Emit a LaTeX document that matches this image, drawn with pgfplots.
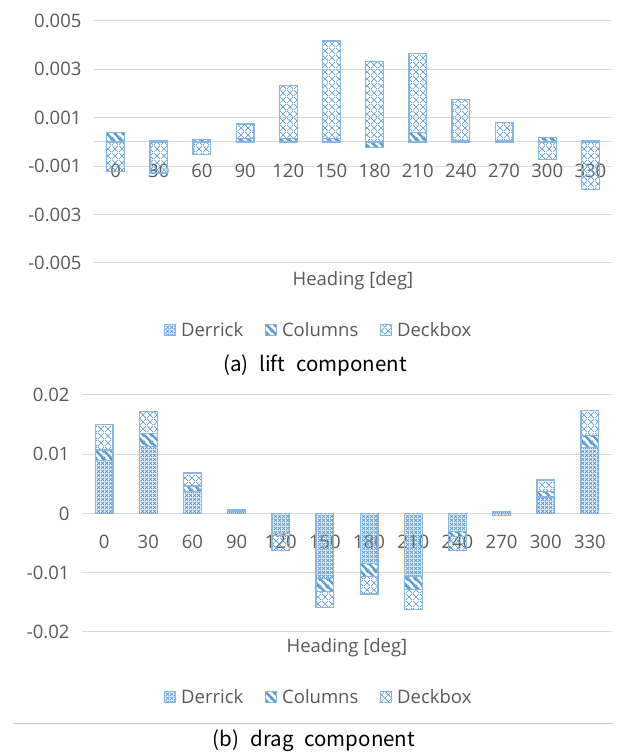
\documentclass[border=0pt]{standalone}
\usepackage{pgfplots}
\pgfplotsset{compat=1.18}
\usepackage{pgfplotstable}
\usepackage{fontspec}
\setmainfont{Open Sans}
\newfontfamily\capfam{Noto Sans CJK KR}
\usetikzlibrary{patterns}
\definecolor{xblue}{HTML}{5B9BD5}
\definecolor{xborder}{HTML}{86B6E4}
\definecolor{xgray}{HTML}{595959}
\definecolor{xgrid}{HTML}{D9D9D9}
\newcommand\tickfont{\fontsize{18.5}{22}\selectfont}
\newcommand\capfont{\capfam\fontsize{20.5}{24}\selectfont}

\pgfdeclarepatternformonly{derrickpat}{\pgfpointorigin}{\pgfpoint{3.6pt}{3.6pt}}{\pgfpoint{3.6pt}{3.6pt}}{
 \pgfsetlinewidth{0.9pt}
 \pgfpathmoveto{\pgfpointorigin}\pgfpathlineto{\pgfpoint{3.6pt}{3.6pt}}
 \pgfpathmoveto{\pgfpoint{0pt}{3.6pt}}\pgfpathlineto{\pgfpoint{3.6pt}{0pt}}
 \pgfusepath{stroke}}
\pgfdeclarepatternformonly{columnspat}{\pgfpointorigin}{\pgfpoint{8pt}{8pt}}{\pgfpoint{8pt}{8pt}}{
 \pgfsetlinewidth{2.6pt}
 \pgfpathmoveto{\pgfpoint{0pt}{8pt}}\pgfpathlineto{\pgfpoint{8pt}{0pt}}
 \pgfpathmoveto{\pgfpoint{-2pt}{2pt}}\pgfpathlineto{\pgfpoint{2pt}{-2pt}}
 \pgfpathmoveto{\pgfpoint{6pt}{10pt}}\pgfpathlineto{\pgfpoint{10pt}{6pt}}
 \pgfusepath{stroke}}
\pgfdeclarepatternformonly{deckpat}{\pgfpointorigin}{\pgfpoint{7pt}{7pt}}{\pgfpoint{7pt}{7pt}}{
 \pgfsetlinewidth{0.75pt}
 \pgfpathmoveto{\pgfpointorigin}\pgfpathlineto{\pgfpoint{7pt}{7pt}}
 \pgfpathmoveto{\pgfpoint{0pt}{7pt}}\pgfpathlineto{\pgfpoint{7pt}{0pt}}
 \pgfusepath{stroke}}

\pgfplotsset{
 sqlegend/.style={legend image code/.code={\draw[##1,line width=0.8pt] (0pt,-5.5pt) rectangle (11pt,5.5pt);}},
 derS/.style={draw=xborder, line width=1.2pt, pattern=derrickpat, pattern color=xblue, sqlegend},
 colS/.style={draw=xborder, line width=1.2pt, pattern=columnspat, pattern color=xblue, sqlegend},
 deckS/.style={draw=xborder, line width=1.2pt, pattern=deckpat, pattern color=xblue, sqlegend},
 baseax/.style={scale only axis, ybar stacked, xmin=-0.5, xmax=11.5,
   scaled y ticks=false, major tick length=0pt},
 mainax/.style={baseax, axis x line*=middle, axis y line*=left,
   x axis line style={draw=xgrid, line width=1pt}, y axis line style={draw=none},
   xtick=\empty, ymajorgrids, grid style={xgrid, line width=1pt},
   tick label style={font=\tickfont, text=xgray},
   yticklabel style={xshift=-9pt},
   xlabel={Heading [deg]},
   label style={font=\tickfont, text=xgray},
   legend columns=3,
   legend cell align=left,
   legend style={draw=none, fill=none, font=\tickfont, text=xgray, anchor=center,
     /tikz/every odd column/.append style={column sep=3pt},
     /tikz/every even column/.append style={column sep=20pt}}},
 negax/.style={baseax, axis x line*=middle, axis y line=none,
   x axis line style={draw=none}, ytick=\empty,
   xtick={0,...,11}, xticklabels={0,30,60,90,120,150,180,210,240,270,300,330},
   xticklabel style={font=\tickfont, text=xgray, yshift=-19pt}},
}

\pgfplotstableread{
x derP colP deckP derN colN deckN
0 0 0.0004 0 0 0 -0.00122
1 0 0.00005 0 0 0 -0.00128
2 0 0.0001 0 0 0 -0.00053
3 0 0.00015 0.00059 0 0 0
4 0 0.00015 0.0022 0 0 0
5 0 0.00015 0.00402 0 0 0
6 0 0 0.00333 0 -0.00023 0
7 0 0.00038 0.00327 0 0 0
8 0 0.00005 0.00172 0 0 0
9 0 0.00005 0.00075 0 0 0
10 0 0.0002 0 0 0 -0.00074
11 0 0.00005 0 0 0 -0.00195
}\lift

\pgfplotstableread{
x derP colP deckP derN colN deckN
0 0.0089 0.0018 0.0043 0 0 0
1 0.01125 0.00226 0.00365 0 0 0
2 0.00365 0.001 0.0022 0 0 0
3 0.0003 0.0001 0.0002 0 0 0
4 0 0 0 -0.0034 -0.0003 -0.0026
5 0 0 0 -0.011 -0.0021 -0.0028
6 0 0 0 -0.0085 -0.0021 -0.003
7 0 0 0 -0.0107 -0.0021 -0.0034
8 0 0 0 -0.0031 -0.0008 -0.0024
9 0.0003 0.0001 0 0 0 -0.0003
10 0.0028 0.00085 0.002 0 0 0
11 0.0111 0.002 0.0043 0 0 0
}\drag

\begin{document}
\begin{tikzpicture}
\useasboundingbox (0,0) rectangle (625pt,754pt);
% ---------- (a) lift ----------
\begin{axis}[mainax, at={(94pt,491pt)}, anchor=south west, width=518pt, height=242pt,
  bar width=17.7pt, ymin=-0.005, ymax=0.005,
  ytick={-0.005,-0.003,-0.001,0.001,0.003,0.005},
  yticklabels={-0.005,-0.003,-0.001,0.001,0.003,0.005},
  xlabel style={at={(axis description cs:0.5,-0.074)}, anchor=center},
  legend style={at={(axis description cs:0.434,-0.277)}}]
\addplot[derS] table[x=x,y=derP]{\lift};
\addplot[colS] table[x=x,y=colP]{\lift};
\addplot[deckS] table[x=x,y=deckP]{\lift};
\legend{Derrick,Columns,Deckbox}
\end{axis}
\begin{axis}[negax, at={(94pt,491pt)}, anchor=south west, width=518pt, height=242pt,
  bar width=17.7pt, ymin=-0.005, ymax=0.005]
\addplot[derS] table[x=x,y=derN]{\lift};
\addplot[colS] table[x=x,y=colN]{\lift};
\addplot[deckS] table[x=x,y=deckN]{\lift};
\end{axis}
% ---------- (b) drag ----------
\begin{axis}[mainax, at={(82pt,122pt)}, anchor=south west, width=530pt, height=237pt,
  bar width=17.7pt, ymin=-0.02, ymax=0.02,
  ytick={-0.02,-0.01,0,0.01,0.02},
  yticklabels={-0.02,-0.01,0,0.01,0.02},
  xlabel style={at={(axis description cs:0.5,-0.068)}, anchor=center},
  legend style={at={(axis description cs:0.447,-0.274)}}]
\addplot[derS] table[x=x,y=derP]{\drag};
\addplot[colS] table[x=x,y=colP]{\drag};
\addplot[deckS] table[x=x,y=deckP]{\drag};
\legend{Derrick,Columns,Deckbox}
\end{axis}
\begin{axis}[negax, at={(82pt,122pt)}, anchor=south west, width=530pt, height=237pt,
  bar width=17.7pt, ymin=-0.02, ymax=0.02, xticklabel style={yshift=1pt}]
\addplot[derS] table[x=x,y=derN]{\drag};
\addplot[colS] table[x=x,y=colN]{\drag};
\addplot[deckS] table[x=x,y=deckN]{\drag};
\end{axis}
\node[font=\capfont, anchor=center] at (315pt,389pt) {(a)\hspace{11pt}lift\hspace{11pt}component};
\draw[color=xgrid!80!gray, line width=1pt] (13pt,30pt) -- (613pt,30pt);
\node[font=\capfont, anchor=center] at (314pt,13pt) {(b)\hspace{11pt}drag\hspace{11pt}component};
\end{tikzpicture}
\end{document}
